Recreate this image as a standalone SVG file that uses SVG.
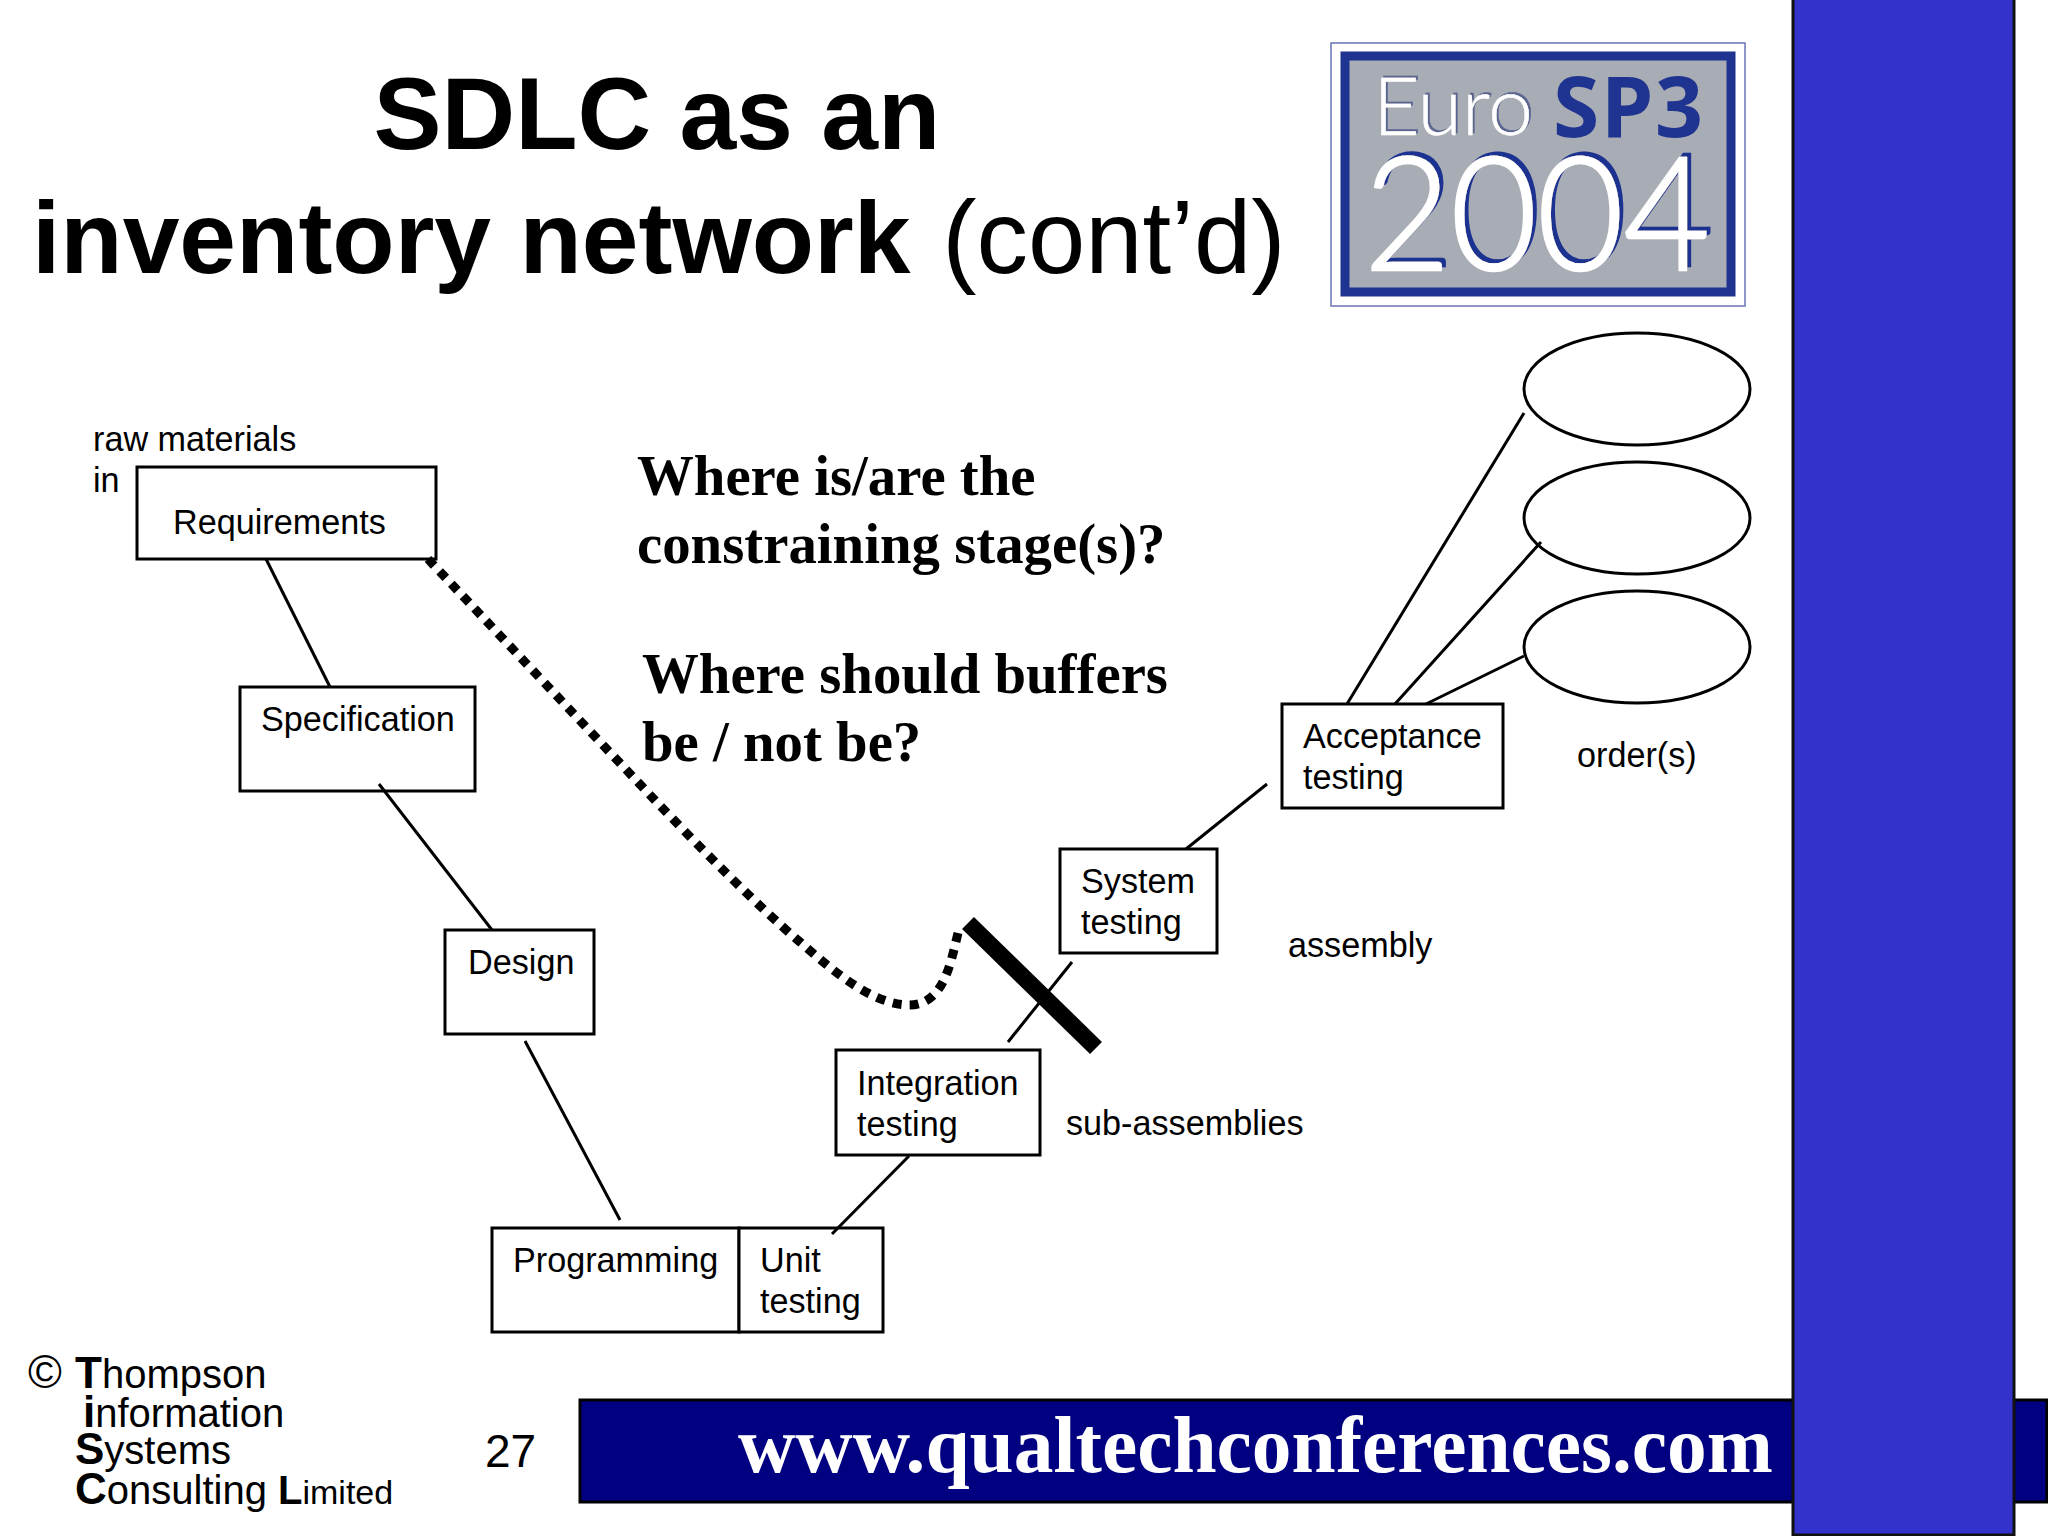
<svg xmlns="http://www.w3.org/2000/svg" width="2048" height="1536" viewBox="0 0 2048 1536">
<style>
.box{fill:#fff;stroke:#000;stroke-width:3}
.lbl{font-family:"Liberation Sans",Arial,sans-serif;font-size:34.2px;fill:#000}
.q{font-family:"Liberation Serif","Times New Roman",serif;font-weight:bold;font-size:56.8px;fill:#000}
.ti{font-family:"Liberation Sans",Arial,sans-serif;font-size:102px;fill:#000}
.co{font-family:"Liberation Sans",Arial,sans-serif;font-size:40px;fill:#000}
.b{font-weight:bold}
.con{fill:none;stroke:#000;stroke-width:3}
.thin{font-family:Lato,"Open Sans",sans-serif;font-weight:300;fill:#fff;stroke:#fff}
</style>
<defs>
<filter id="sh" x="-5%" y="-5%" width="110%" height="110%"><feDropShadow dx="4" dy="-4" stdDeviation="0.4" flood-color="#1f3391"/></filter>
<filter id="sh2" x="-5%" y="-5%" width="110%" height="110%"><feDropShadow dx="2" dy="-2" stdDeviation="0.5" flood-color="#5a6590"/></filter>
</defs>
<rect width="2048" height="1536" fill="#fff"/>
<g id="title">
<text class="ti b" x="657" y="149" text-anchor="middle">SDLC as an</text>
<text class="ti" x="32" y="273"><tspan class="b">inventory network</tspan><tspan style="font-size:103px" dx="3"> (cont’d)</tspan></text>
</g>
<g id="logo">
<rect x="1331" y="43" width="414" height="263" fill="#fff" stroke="#6a74b8" stroke-width="1.5"/>
<rect x="1345" y="56" width="386" height="236" fill="#a8acb4" stroke="#1f3391" stroke-width="9"/>
<text class="thin" x="1373" y="135" font-size="80" stroke-width="0.4" textLength="160" lengthAdjust="spacingAndGlyphs" filter="url(#sh2)">Euro</text>
<text x="1553" y="137" font-family="'Open Sans','Liberation Sans',sans-serif" font-weight="bold" font-size="84" fill="#1f3391" textLength="150" lengthAdjust="spacing">SP3</text>
<text class="thin" x="1364" y="270" font-size="158" stroke-width="2.5" textLength="346" lengthAdjust="spacingAndGlyphs" filter="url(#sh)">2004</text>
</g>
<g id="requirements"><rect class="box" x="137" y="467" width="299" height="92"/><text class="lbl" x="173" y="534">Requirements</text></g>
<g id="specification"><rect class="box" x="240" y="687" width="235" height="104"/><text class="lbl" x="261" y="731">Specification</text></g>
<g id="design"><rect class="box" x="445" y="930" width="149" height="104"/><text class="lbl" x="468" y="974">Design</text></g>
<g id="programming"><rect class="box" x="492" y="1228" width="247" height="104"/><text class="lbl" x="513" y="1272">Programming</text></g>
<g id="unit-testing"><rect class="box" x="739" y="1228" width="144" height="104"/><text class="lbl" x="760" y="1272">Unit</text><text class="lbl" x="760" y="1313">testing</text></g>
<g id="integration-testing"><rect class="box" x="836" y="1050" width="204" height="105"/><text class="lbl" x="857" y="1095">Integration</text><text class="lbl" x="857" y="1136">testing</text></g>
<g id="system-testing"><rect class="box" x="1060" y="849" width="157" height="104"/><text class="lbl" x="1081" y="893">System</text><text class="lbl" x="1081" y="934">testing</text></g>
<g id="acceptance-testing"><rect class="box" x="1282" y="704" width="221" height="104"/><text class="lbl" x="1303" y="748">Acceptance</text><text class="lbl" x="1303" y="789">testing</text></g>
<g id="order-1"><ellipse class="box" cx="1637" cy="389" rx="113" ry="56"/></g>
<g id="order-2"><ellipse class="box" cx="1637" cy="518" rx="113" ry="56"/></g>
<g id="order-3"><ellipse class="box" cx="1637" cy="647" rx="113" ry="56"/></g>
<g id="connectors">
<path class="con" d="M266 559L330 687M379 784L492 930M525 1041L620 1220M832 1234L909 1156M1008 1042L1072 962M1186 849L1267 784M1347 704L1524 413M1395 704L1541 542M1426 704L1524 656"/>
<path fill="none" stroke="#000" stroke-width="9" stroke-dasharray="9 8" d="M428 559L650 795C700 848 760 908 800 942C830 968 870 1004 908 1005C945 1006 951 960 959 929"/>
<path fill="none" stroke="#000" stroke-width="17" d="M968 923L1096 1048"/>
</g>
<g id="labels">
<text class="lbl" x="93" y="451">raw materials</text>
<text class="lbl" x="93" y="492">in</text>
<text class="lbl" x="1066" y="1135">sub-assemblies</text>
<text class="lbl" x="1288" y="957">assembly</text>
<text class="lbl" x="1577" y="767">order(s)</text>
<text class="q" x="637" y="495">Where is/are the</text>
<text class="q" x="637" y="563">constraining stage(s)?</text>
<text class="q" x="642" y="693">Where should buffers</text>
<text class="q" x="642" y="761">be / not be?</text>
</g>
<g id="copyright">
<text class="co" x="28" y="1388" style="font-size:46px">©</text>
<text class="co" x="75" y="1388"><tspan class="b" font-size="44">T</tspan>hompson</text>
<text class="co" x="83" y="1427"><tspan class="b" font-size="44">i</tspan>nformation</text>
<text class="co" x="75" y="1464"><tspan class="b" font-size="44">S</tspan>ystems</text>
<text class="co" x="75" y="1504"><tspan class="b" font-size="44">C</tspan>onsulting <tspan class="b" font-size="40">L</tspan><tspan font-size="34">imited</tspan></text>
<text class="co" x="485" y="1467" style="font-size:46px">27</text>
</g>
<g id="footer">
<rect x="580" y="1400" width="1467" height="102" fill="#000080" stroke="#000" stroke-width="3"/>
<text x="738" y="1472" font-family="'Liberation Serif','Times New Roman',serif" font-weight="bold" font-size="79.4" fill="#fff">www.qualtechconferences.com</text>
</g>
<g id="side-panel"><rect x="1793" y="-3" width="221" height="1538" fill="#3333cc" stroke="#111" stroke-width="3"/></g>
</svg>
